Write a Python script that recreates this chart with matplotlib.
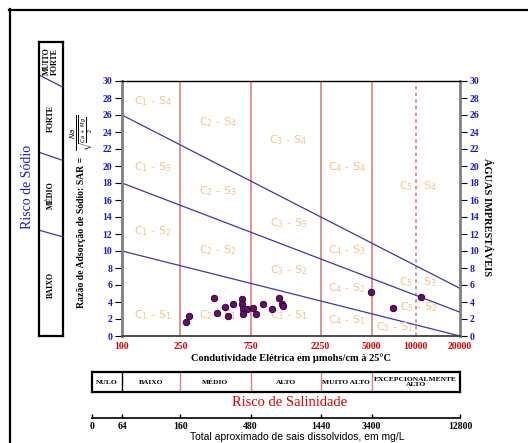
import numpy as np
import matplotlib.pyplot as plt
from matplotlib.lines import Line2D

# data
ec_ticks = [100, 250, 750, 2250, 5000, 10000, 20000]
sar_ticks = list(range(0, 31, 2))

# SAR boundary lines (value at EC=100 and at EC=20000)
bound_ec = [100, 20000]
bound_s1_s2 = [10.0, 0.0]
bound_s2_s3 = [18.0, 2.8]
bound_s3_s4 = [26.0, 5.6]

# samples
sample_ec = [271, 287, 425, 441, 499, 523, 572, 653, 653, 669, 669, 706, 783,
             823, 912, 1045, 1163, 1232, 1256, 4955, 7028, 10800]
sample_sar = [1.7, 2.3, 4.47, 2.67, 3.45, 2.38, 3.8, 4.39, 3.73, 3.21, 2.55,
              3.14, 3.35, 2.59, 3.73, 3.21, 4.47, 3.8, 3.53, 5.14, 3.26, 4.62]

# class labels inside the diagram
zone_names = ['C1-S4', 'C2-S4', 'C3-S4', 'C1-S3', 'C2-S3', 'C3-S3',
              'C1-S2', 'C2-S2', 'C3-S2', 'C1-S1', 'C2-S1', 'C3-S1',
              'C4-S4', 'C4-S3', 'C4-S2', 'C4-S1',
              'C5-S4', 'C5-S3', 'C5-S2', 'C5-S1']
zone_ec = [163, 452, 1356, 163, 452, 1356, 163, 452, 1356, 163, 452, 1356,
           3385, 3385, 3385, 3385, 10400, 10400, 10400, 7215]
zone_sar = [27.6, 25.2, 23.1, 19.9, 17.0, 13.3, 12.3, 10.1, 7.8, 2.5, 2.5, 2.5,
            19.9, 10.1, 5.6, 1.9, 17.6, 6.4, 3.4, 1.1]

# salinity classes
sal_edges = [62.5, 100, 250, 750, 2250, 5000, 20000]
sal_names = ['NULO', 'BAIXO', 'MÉDIO', 'ALTO', 'MUITO ALTO', 'EXCEPCIONALMENTE\nALTO']
tds_labels = ['0', '64', '160', '480', '1440', '3400', '12800']

# sodium classes (box units, 0 bottom - 1 top; left / right end of divider)
sod_names = ['BAIXO', 'MÉDIO', 'FORTE', 'MUITO\nFORTE']
sod_div_left = [0.360, 0.625, 0.888]
sod_div_right = [0.337, 0.597, 0.846]

W, H = 528, 443
serif = 'Liberation Serif'
blue = '#1a1acc'
red = '#dd0000'
vline_col = '#d98080'
bound_col = '#3a3aa8'
zone_col = '#f5c489'


def rect(x0, y0, x1, y1):
    return [x0 / W, 1 - y1 / H, (x1 - x0) / W, (y1 - y0) / H]


fig = plt.figure(figsize=(W / 100, H / 100), dpi=100)

# outer frame
fig.add_artist(Line2D([9.5 / W, 9.5 / W], [1 - 9 / H, 0], color='black', lw=1.6))
fig.add_artist(Line2D([9 / W, 1], [1 - 9.5 / H, 1 - 9.5 / H], color='black', lw=1.6))

# main diagram
ax = fig.add_axes(rect(122, 81, 460, 336))
ax.set_xscale('log')
ax.set_xlim(100, 20000)
ax.set_ylim(0, 30)

for ec in ec_ticks[1:5]:
    ax.axvline(ec, color=vline_col, lw=1.2, zorder=1)
ax.axvline(ec_ticks[5], color=vline_col, lw=1.2, ls=(0, (2, 2)), zorder=1)

for b in [bound_s1_s2, bound_s2_s3, bound_s3_s4]:
    ax.plot(bound_ec, b, color=bound_col, lw=0.9, zorder=2)

for name, x, y in zip(zone_names, zone_ec, zone_sar):
    c, s = name.split('-')
    ax.text(x, y, c[0] + '$_{' + c[1] + '}$ - ' + s[0] + '$_{' + s[1] + '}$',
            color=zone_col, fontsize=8, ha='center', va='center', zorder=3)

ax.scatter(sample_ec, sample_sar, s=22, color='#6a0a6a', edgecolors='#200020',
           linewidths=0.6, zorder=4)

ax.set_xticks(ec_ticks)
ax.set_xticklabels([str(v) for v in ec_ticks])
ax.xaxis.set_minor_locator(plt.NullLocator())
ax.tick_params(axis='x', length=0, pad=4, labelcolor=red, labelsize=7)
ax.set_yticks(sar_ticks)
ax.tick_params(axis='y', which='both', left=True, right=True, labelleft=True,
               labelright=True, length=5, width=0.8, labelcolor=blue, labelsize=7, pad=2)
for lab in ax.get_xticklabels() + ax.get_yticklabels():
    lab.set_family(serif)
    lab.set_weight('bold')

ax.spines['left'].set_color('#808080')
ax.spines['left'].set_linewidth(2)
ax.spines['right'].set_color('#808080')
ax.spines['right'].set_linewidth(2)
ax.spines['bottom'].set_color('#404040')
ax.spines['bottom'].set_linewidth(1.3)
ax.spines['top'].set_linewidth(1)

ax.set_xlabel('Condutividade Elétrica em µmohs/cm à 25°C', family=serif,
              weight='bold', fontsize=7.5, labelpad=2)

fig.text(487 / W, 1 - 217 / H, 'ÁGUAS IMPRESTÁVEIS', rotation=-90, family=serif,
         weight='bold', fontsize=7.5, ha='center', va='center')

# SAR label
fig.text(82 / W, 1 - 231 / H, 'Razão de Adsorção de Sódio: SAR = ', rotation=90,
         family=serif, weight='bold', fontsize=7, ha='center', va='center')
fig.text(82 / W, 1 - 133 / H, r'$\frac{Na}{\sqrt{\frac{Ca\ +\ Mg}{2}}}$', rotation=90,
         fontsize=7.5, ha='center', va='center')

# sodium risk box
axs = fig.add_axes(rect(39, 42, 63, 336))
axs.set_xlim(0, 1)
axs.set_ylim(0, 1)
axs.set_xticks([])
axs.set_yticks([])
for sp in axs.spines.values():
    sp.set_linewidth(1.6)
for yl, yr in zip(sod_div_left, sod_div_right):
    axs.plot([0, 1], [yl, yr], color=bound_col, lw=0.9)
sod_lo = [0] + [(a + b) / 2 for a, b in zip(sod_div_left, sod_div_right)]
sod_hi = sod_lo[1:] + [1]
for name, lo, hi in zip(sod_names, sod_lo, sod_hi):
    axs.text(0.5, (lo + hi) / 2, name, rotation=90, family=serif, weight='bold',
             fontsize=5.8, ha='center', va='center', linespacing=0.9)
fig.text(28 / W, 1 - 187 / H, 'Risco de Sódio', rotation=90, family=serif,
         color=blue, fontsize=10, ha='center', va='center')

# salinity risk box
axb = fig.add_axes(rect(92, 372, 460, 392))
axb.set_xscale('log')
axb.set_xlim(sal_edges[0], sal_edges[-1])
axb.set_ylim(0, 1)
axb.set_xticks([])
axb.set_yticks([])
axb.xaxis.set_minor_locator(plt.NullLocator())
for sp in axb.spines.values():
    sp.set_linewidth(1.6)
axb.axvline(sal_edges[1], color='black', lw=1)
for e in sal_edges[2:-1]:
    axb.axvline(e, color=vline_col, lw=1)
for name, lo, hi in zip(sal_names, sal_edges[:-1], sal_edges[1:]):
    axb.text(np.sqrt(lo * hi), 0.5, name, family=serif, weight='bold', fontsize=5.4,
             ha='center', va='center', linespacing=0.9)
fig.text(290 / W, 1 - 402 / H, 'Risco de Salinidade', family=serif, color=red,
         fontsize=10.5, ha='center', va='center')

# TDS scale
axt = fig.add_axes(rect(92, 417, 460, 418))
axt.set_xscale('log')
axt.set_xlim(sal_edges[0], sal_edges[-1])
axt.set_yticks([])
for sp in ['left', 'right', 'top']:
    axt.spines[sp].set_visible(False)
axt.spines['bottom'].set_linewidth(1.2)
axt.set_xticks(sal_edges)
axt.set_xticklabels(tds_labels)
axt.xaxis.set_minor_locator(plt.NullLocator())
axt.tick_params(axis='x', direction='in', length=3, width=1, labelsize=7, pad=3)
for lab in axt.get_xticklabels():
    lab.set_family(serif)
    lab.set_weight('bold')
fig.text(297 / W, 1 - 437 / H, 'Total aproximado de sais dissolvidos, em mg/L',
         family='Liberation Sans', fontsize=7.5, ha='center', va='center')

fig.savefig('out.png', dpi=100)
